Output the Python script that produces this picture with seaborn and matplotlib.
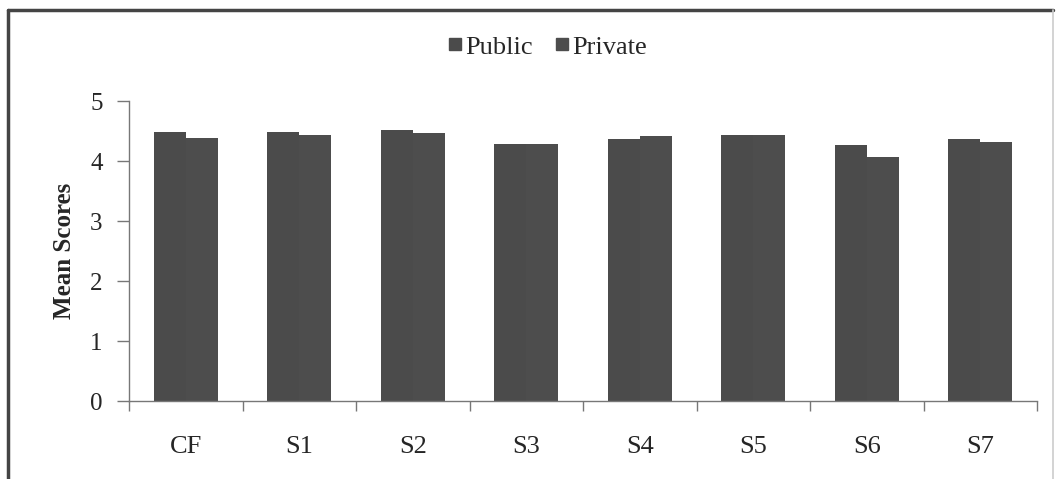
import pandas as pd
import seaborn as sns
import matplotlib.pyplot as plt
from matplotlib.lines import Line2D
from matplotlib.ticker import FixedLocator

CATEGORIES = ["CF", "S1", "S2", "S3", "S4", "S5", "S6", "S7"]
SERIES = ["Public", "Private"]
PUBLIC = [4.49, 4.48, 4.52, 4.29, 4.37, 4.44, 4.27, 4.36]
PRIVATE = [4.39, 4.43, 4.46, 4.29, 4.42, 4.43, 4.07, 4.32]
Y_TICKS = [0, 1, 2, 3, 4, 5]

COLORS = ["#4b4b4b", "#4d4d4d"]


def plot_scores():
    sns.set_style("white")
    plt.rcParams['font.family'] = ['Liberation Serif', 'DejaVu Serif']

    df = pd.DataFrame({
        "cat": CATEGORIES * 2,
        "score": PUBLIC + PRIVATE,
        "group": [SERIES[0]] * len(CATEGORIES) + [SERIES[1]] * len(CATEGORIES),
    })

    fig = plt.figure(figsize=(10.61, 4.79), dpi=100)
    ax = fig.add_axes([0.1216, 0.1628, 0.8558, 0.6262])

    sns.barplot(
        data=df, x="cat", y="score", hue="group",
        order=CATEGORIES, hue_order=SERIES,
        palette=COLORS, width=0.565, gap=0,
        linewidth=0, saturation=1, ax=ax, legend=False,
    )

    ax.set_ylim(0, 5)
    ax.set_xlim(-0.5, len(CATEGORIES) - 0.5)
    ax.set_yticks(Y_TICKS)
    ax.set_yticklabels([str(t) for t in Y_TICKS], fontsize=18)
    ax.xaxis.set_minor_locator(FixedLocator([i - 0.5 for i in range(len(CATEGORIES) + 1)]))
    ax.tick_params(axis='x', which='major', bottom=False, labelsize=19, pad=22)
    ax.tick_params(axis='x', which='minor', bottom=True, length=7, width=1,
                   color="#777777", direction='out')
    ax.tick_params(axis='y', left=True, length=9, width=1, color="#777777",
                   direction='out', pad=10)

    for side in ["top", "right"]:
        ax.spines[side].set_visible(False)
    for side in ["left", "bottom"]:
        ax.spines[side].set_color("#777777")
        ax.spines[side].set_linewidth(1)

    ax.set_xlabel("")
    ax.set_ylabel("Mean Scores", fontsize=18, fontweight="bold", labelpad=10)

    handles = [Line2D([0], [0], marker='s', linestyle='none', markersize=8,
                      markerfacecolor=c, markeredgecolor=c) for c in COLORS]
    fig.legend(handles, SERIES, loc='center', bbox_to_anchor=(0.513, 0.902),
               ncol=2, frameon=False, fontsize=19, handletextpad=-0.1,
               columnspacing=0.6, handlelength=1.0)

    # outer frame of the figure (cut off at the bottom)
    x0, x1 = 8 / 1061, 1053 / 1061
    y_top = 1 - 10 / 479
    fig.add_artist(Line2D([x0, x1], [y_top, y_top], transform=fig.transFigure,
                          color="#444444", linewidth=2.5))
    fig.add_artist(Line2D([x0, x0], [0, y_top], transform=fig.transFigure,
                          color="#444444", linewidth=2.5))
    fig.add_artist(Line2D([x1, x1], [0, y_top], transform=fig.transFigure,
                          color="#cccccc", linewidth=1.2))

    fig.savefig("out.png", dpi=100)


if __name__ == "__main__":
    plot_scores()
